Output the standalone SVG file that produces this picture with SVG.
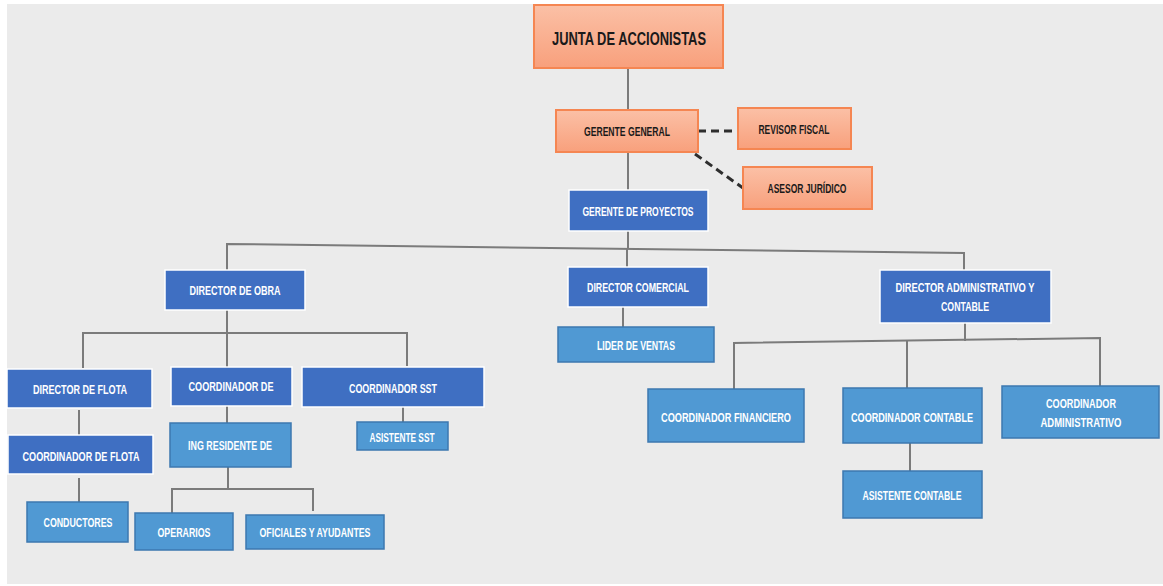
<svg xmlns="http://www.w3.org/2000/svg" width="1163" height="586" viewBox="0 0 1163 586" xml:space="preserve">
<defs>
<linearGradient id="og" x1="0" y1="0" x2="0" y2="1">
<stop offset="0" stop-color="#fbc0a6"/>
<stop offset="1" stop-color="#f8a07c"/>
</linearGradient>
<style>
.or{fill:url(#og);stroke:#f58652;stroke-width:2}
.db{fill:#3f6fc2;stroke:#ffffff;stroke-width:1.5}
.lb{fill:#5099d3;stroke:#3d78b0;stroke-width:1.5}
text{font-family:"Liberation Sans",Arial,sans-serif;font-weight:bold;text-anchor:middle}
.tw{fill:#ffffff;font-size:12.5px}
.tk{fill:#1a1a1a;font-size:13px}
.ln{stroke:#7b7b7b;stroke-width:2;fill:none}
.ds{stroke:#2e2e2e;stroke-width:3;stroke-dasharray:8 5;fill:none}
</style>
</defs>
<rect x="0" y="0" width="1163" height="586" fill="#ffffff"/>
<rect x="7" y="4" width="1156" height="580" fill="#ebebeb"/>
<g id="connectors">
<path class="ln" d="M628 68V110"/>
<path class="ln" d="M628 152V190"/>
<path class="ln" d="M628 231V248"/>
<path class="ln" d="M227 270V244L964 253V270"/>
<path class="ln" d="M627 248V267"/>
<path class="ln" d="M227 310V333"/>
<path class="ln" d="M83 368V333H407V366"/>
<path class="ln" d="M227 333V367"/>
<path class="ln" d="M79 410V435"/>
<path class="ln" d="M79 478V502"/>
<path class="ln" d="M227 406V423"/>
<path class="ln" d="M403 407V422"/>
<path class="ln" d="M228 467V489"/>
<path class="ln" d="M172 513V489H313V511"/>
<path class="ln" d="M623 307V327"/>
<path class="ln" d="M965 323V341"/>
<path class="ln" d="M734 389V343L1100 338V386"/>
<path class="ln" d="M907 341V388"/>
<path class="ln" d="M910 443V471"/>
<path class="ds" d="M698 131H737"/>
<path class="ds" d="M695 154L743 188"/>
</g>
<g id="junta"><rect class="or" x="534" y="5" width="189" height="63"/><text class="tk" x="629" y="45" style="font-size:18.5px" textLength="154" lengthAdjust="spacingAndGlyphs">JUNTA DE ACCIONISTAS</text></g>
<g id="gerente-general"><rect class="or" x="556" y="110" width="142" height="42"/><text class="tk" x="627" y="136" textLength="86" lengthAdjust="spacingAndGlyphs">GERENTE GENERAL</text></g>
<g id="revisor"><rect class="or" x="738" y="108" width="113" height="41"/><text class="tk" x="794" y="134" textLength="71" lengthAdjust="spacingAndGlyphs">REVISOR FISCAL</text></g>
<g id="asesor"><rect class="or" x="743" y="167" width="129" height="42"/><text class="tk" x="807" y="193" textLength="79" lengthAdjust="spacingAndGlyphs">ASESOR JURÍDICO</text></g>
<g id="gerente-proyectos"><rect class="db" x="569" y="190" width="139" height="41"/><text class="tw" x="638" y="216" textLength="111" lengthAdjust="spacingAndGlyphs">GERENTE DE PROYECTOS</text></g>
<g id="director-obra"><rect class="db" x="165" y="270" width="140" height="40"/><text class="tw" x="235" y="295" textLength="91" lengthAdjust="spacingAndGlyphs">DIRECTOR  DE OBRA</text></g>
<g id="director-comercial"><rect class="db" x="568" y="267" width="140" height="40"/><text class="tw" x="638" y="292" textLength="102" lengthAdjust="spacingAndGlyphs">DIRECTOR COMERCIAL</text></g>
<g id="director-admin"><rect class="db" x="880" y="270" width="171" height="53"/><text class="tw" x="965" y="292" textLength="139" lengthAdjust="spacingAndGlyphs">DIRECTOR ADMINISTRATIVO  Y</text><text class="tw" x="965" y="311" textLength="48" lengthAdjust="spacingAndGlyphs">CONTABLE</text></g>
<g id="lider-ventas"><rect class="lb" x="558" y="327" width="156" height="35"/><text class="tw" x="636" y="350" textLength="78" lengthAdjust="spacingAndGlyphs">LIDER DE VENTAS</text></g>
<g id="director-flota"><rect class="db" x="7" y="369" width="145" height="39"/><text class="tw" x="80" y="394" textLength="94" lengthAdjust="spacingAndGlyphs">DIRECTOR DE  FLOTA</text></g>
<g id="coordinador-de"><rect class="db" x="171" y="367" width="121" height="39"/><text class="tw" x="231" y="391" textLength="85" lengthAdjust="spacingAndGlyphs">COORDINADOR DE</text></g>
<g id="coordinador-sst"><rect class="db" x="302" y="367" width="182" height="40"/><text class="tw" x="393" y="393" textLength="88" lengthAdjust="spacingAndGlyphs">COORDINADOR SST</text></g>
<g id="coordinador-flota"><rect class="db" x="8" y="435" width="145" height="39"/><text class="tw" x="81" y="461" textLength="117" lengthAdjust="spacingAndGlyphs">COORDINADOR DE  FLOTA</text></g>
<g id="ing-residente"><rect class="lb" x="170" y="423" width="121" height="44"/><text class="tw" x="230" y="450" textLength="84" lengthAdjust="spacingAndGlyphs">ING RESIDENTE  DE</text></g>
<g id="asistente-sst"><rect class="lb" x="357" y="422" width="91" height="28"/><text class="tw" x="402" y="442" textLength="65" lengthAdjust="spacingAndGlyphs">ASISTENTE SST</text></g>
<g id="conductores"><rect class="lb" x="27" y="502" width="101" height="40"/><text class="tw" x="78" y="527" textLength="69" lengthAdjust="spacingAndGlyphs">CONDUCTORES</text></g>
<g id="operarios"><rect class="lb" x="135" y="513" width="98" height="37"/><text class="tw" x="184" y="537" textLength="53" lengthAdjust="spacingAndGlyphs">OPERARIOS</text></g>
<g id="oficiales"><rect class="lb" x="246" y="515" width="138" height="34"/><text class="tw" x="315" y="537" textLength="111" lengthAdjust="spacingAndGlyphs">OFICIALES Y AYUDANTES</text></g>
<g id="coordinador-financiero"><rect class="lb" x="648" y="389" width="156" height="53"/><text class="tw" x="726" y="422" textLength="130" lengthAdjust="spacingAndGlyphs">COORDINADOR  FINANCIERO</text></g>
<g id="coordinador-contable"><rect class="lb" x="843" y="388" width="139" height="55"/><text class="tw" x="912" y="422" textLength="122" lengthAdjust="spacingAndGlyphs">COORDINADOR  CONTABLE</text></g>
<g id="coordinador-administrativo"><rect class="lb" x="1002" y="386" width="157" height="52"/><text class="tw" x="1081" y="408" textLength="70" lengthAdjust="spacingAndGlyphs">COORDINADOR</text><text class="tw" x="1081" y="427" textLength="81" lengthAdjust="spacingAndGlyphs">ADMINISTRATIVO</text></g>
<g id="asistente-contable"><rect class="lb" x="843" y="471" width="139" height="47"/><text class="tw" x="912" y="500" textLength="99" lengthAdjust="spacingAndGlyphs">ASISTENTE CONTABLE</text></g>
</svg>
